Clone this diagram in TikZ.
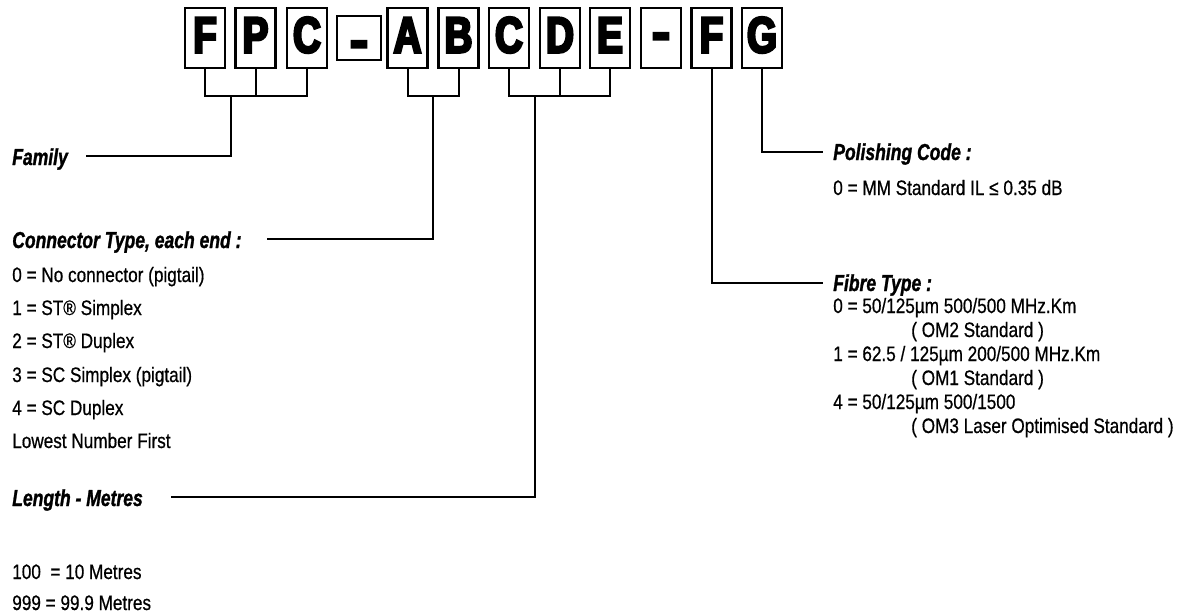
\documentclass[tikz,border=0pt]{standalone}
\usepackage{fontspec}
\setmainfont{Liberation Sans}
\newfontfamily\bodyf[FakeStretch=0.82,FakeBold=0.6]{Liberation Sans}
\newfontfamily\headf[FakeStretch=0.76,FakeBold=1.2]{Liberation Sans Bold Italic}
\newfontfamily\bigf[FakeStretch=0.76,FakeBold=5]{Liberation Sans Bold}
\newfontfamily\dashf[FakeStretch=1.1,FakeBold=6]{Liberation Sans Bold}
\begin{document}
\begin{tikzpicture}[x=0.75pt,y=-0.75pt,
  box/.style={draw,line width=1.8pt,minimum width=30pt,minimum height=45pt,inner sep=0pt},
  smallbox/.style={draw,line width=1.8pt,minimum width=33pt,minimum height=33pt,inner sep=0pt},
  letter/.style={anchor=base,inner sep=0pt,font=\bigf\fontsize{38}{38}\selectfont},
  dashtxt/.style={anchor=base,inner sep=0pt,font=\dashf\fontsize{37}{37}\selectfont},
  body/.style={anchor=base west,inner sep=0pt,font=\bodyf\fontsize{15.7}{18}\selectfont},
  head/.style={anchor=base west,inner sep=0pt,font=\headf\fontsize{17.3}{20}\selectfont},
  conn/.style={line width=1.5pt}]
\useasboundingbox (0,0) rectangle (1187,614);
% boxes
\node[box] (bF) at (205,38) {};
\node[box] (bP) at (255.5,38) {};
\node[box] (bC) at (307,38) {};
\node[smallbox] (bD1) at (359,38) {};
\node[box] (bA) at (407.5,38) {};
\node[box] (bB) at (458.5,38) {};
\node[box] (bC2) at (509,38) {};
\node[box] (bD) at (560,38) {};
\node[box] (bE) at (610,38) {};
\node[box] (bD2) at (661,38) {};
\node[box] (bF2) at (711.5,38) {};
\node[box] (bG) at (762,38) {};
% letters
\node[letter] (lF) at (205,52.5) {F};
\node[letter] (lP) at (255.5,52.5) {P};
\node[letter] (lC) at (307,52.5) {C};
\node[dashtxt] (lD1) at (359,57) {-};
\node[letter] (lA) at (407.5,52.5) {A};
\node[letter] (lB) at (458.5,52.5) {B};
\node[letter] (lC2) at (509,52.5) {C};
\node[letter] (lD) at (560,52.5) {D};
\node[letter] (lE) at (610,52.5) {E};
\node[dashtxt] (lD2) at (661,49) {-};
\node[letter] (lF2) at (711.5,52.5) {F};
\node[letter] (lG) at (762,52.5) {G};
% left texts
\node[head] (tFam) at (12,165) {Family};
\node[head] (tCon) at (12,248) {Connector Type, each end :};
\node[body] (c0) at (12,282) {0 = No connector (pigtail)};
\node[body] (c1) at (12,315) {1 = ST® Simplex};
\node[body] (c2) at (12,348) {2 = ST® Duplex};
\node[body] (c3) at (12,382) {3 = SC Simplex (pigtail)};
\node[body] (c4) at (12,415) {4 = SC Duplex};
\node[body] (c5) at (12,448) {Lowest Number First};
\node[head] (tLen) at (12,506) {Length - Metres};
\node[body] (l1) at (12,579) {100\ \ = 10 Metres};
\node[body] (l2) at (12,610) {999 = 99.9 Metres};
% right texts
\node[head] (tPol) at (833,160) {Polishing Code :};
\node[body] (p0) at (833,195) {0 = MM Standard IL ≤ 0.35 dB};
\node[head] (tFib) at (833,291) {Fibre Type :};
\node[body] (f0) at (833,313) {0 = 50/125µm 500/500 MHz.Km};
\node[body] (f0b) at (911,337) {( OM2 Standard )};
\node[body] (f1) at (833,361) {1 = 62.5 / 125µm 200/500 MHz.Km};
\node[body] (f1b) at (911,385) {( OM1 Standard )};
\node[body] (f4) at (833,409) {4 = 50/125µm 500/1500};
\node[body] (f4b) at (911,433) {( OM3 Laser Optimised Standard )};
% junctions and line ends
\coordinate (j1) at (231,96);
\coordinate (j2) at (433,96);
\coordinate (j3) at (535,96);
\coordinate (eFam) at (86,156);
\coordinate (eCon) at (267,239);
\coordinate (eLen) at (171,497);
\coordinate (ePol) at (823,152);
\coordinate (eFib) at (823,283);
% connectors
\draw[conn] (bF.south) -- (bF.south |- j1) -- (bC.south |- j1) -- (bC.south);
\draw[conn] (bP.south) -- (bP.south |- j1);
\draw[conn] (j1) |- (eFam);
\draw[conn] (bA.south) -- (bA.south |- j2) -- (bB.south |- j2) -- (bB.south);
\draw[conn] (j2) |- (eCon);
\draw[conn] (bC2.south) -- (bC2.south |- j3) -- (bE.south |- j3) -- (bE.south);
\draw[conn] (bD.south) -- (bD.south |- j3);
\draw[conn] (j3) |- (eLen);
\draw[conn] (bG.south) |- (ePol);
\draw[conn] (bF2.south) |- (eFib);
\end{tikzpicture}
\end{document}
